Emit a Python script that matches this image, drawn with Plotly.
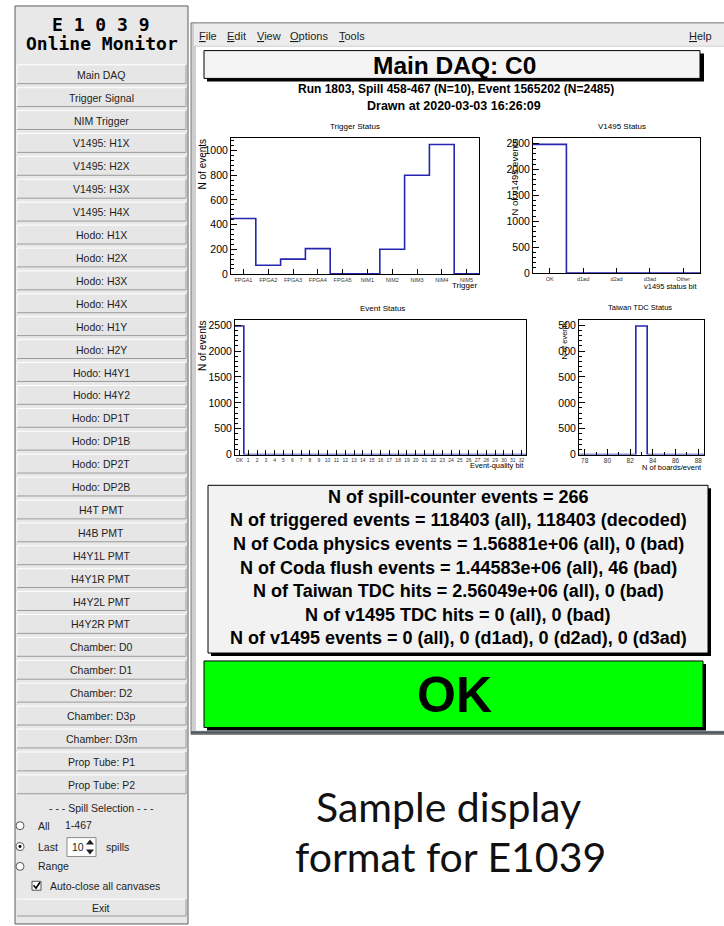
import numpy as np
import plotly.graph_objects as go

# ---------------- data ----------------
trigger_labels = ["FPGA1", "FPGA2", "FPGA3", "FPGA4", "FPGA5", "NIM1", "NIM2", "NIM3", "NIM4", "NIM5"]
trigger_counts = [450, 70, 120, 205, 0, 0, 200, 800, 1050, 0]

v1495_labels = ["OK", "d1ad", "d2ad", "d3ad", "Other"]
v1495_counts = [2485, 0, 0, 0, 0]

event_labels = ["OK", "1", "2", "3", "4", "5", "6", "7", "8", "9", "10", "11", "12", "13", "14", "15", "16",
                "17", "18", "19", "20", "21", "22", "23", "24", "25", "26", "27", "28", "29", "30", "31", "32"]
event_counts = [2485, 0, 0, 0, 0, 0, 0, 0, 0, 0, 0, 0, 0, 0, 0, 0, 0,
                0, 0, 0, 0, 0, 0, 0, 0, 0, 0, 0, 0, 0, 0, 0, 0]

tdc_boards = [78, 79, 80, 81, 82, 83, 84, 85, 86, 87, 88]
tdc_counts = [0, 0, 0, 0, 0, 2485, 0, 0, 0, 0, 0]
tdc_ticks = [0, 500, 1000, 1500, 2000, 2500]
tdc_ticktext = ["0", "500", "000", "500", "000", "500"]

menu_items = ["File", "Edit", "View", "Options", "Tools"]
buttons = ["Main DAQ", "Trigger Signal", "NIM Trigger", "V1495: H1X", "V1495: H2X", "V1495: H3X",
           "V1495: H4X", "Hodo: H1X", "Hodo: H2X", "Hodo: H3X", "Hodo: H4X", "Hodo: H1Y", "Hodo: H2Y",
           "Hodo: H4Y1", "Hodo: H4Y2", "Hodo: DP1T", "Hodo: DP1B", "Hodo: DP2T", "Hodo: DP2B",
           "H4T PMT", "H4B PMT", "H4Y1L PMT", "H4Y1R PMT", "H4Y2L PMT", "H4Y2R PMT",
           "Chamber: D0", "Chamber: D1", "Chamber: D2", "Chamber: D3p", "Chamber: D3m",
           "Prop Tube: P1", "Prop Tube: P2"]

info_lines = [
    "N of spill-counter events = 266",
    "N of triggered events = 118403 (all), 118403 (decoded)",
    "N of Coda physics events = 1.56881e+06 (all), 0 (bad)",
    "N of Coda flush events = 1.44583e+06 (all), 46 (bad)",
    "N of Taiwan TDC hits = 2.56049e+06 (all), 0 (bad)",
    "N of v1495 TDC hits = 0 (all), 0 (bad)",
    "N of v1495 events = 0 (all), 0 (d1ad), 0 (d2ad), 0 (d3ad)",
]

# ---------------- helpers ----------------
W, H = 724, 926
ROOTF = "Liberation Sans"
GUIF = "Liberation Sans"
HIST = "#2626b0"


def px(x):
    return x / W


def py(y):
    return 1 - y / H


shapes = []
annos = []


def rect(x0, y0, x1, y1, fill, line=None, lw=1, layer="below"):
    shapes.append(dict(type="rect", xref="paper", yref="paper",
                       x0=px(x0), x1=px(x1), y0=py(y1), y1=py(y0),
                       fillcolor=fill, layer=layer,
                       line=dict(color=line if line else "rgba(0,0,0,0)", width=lw if line else 0)))


def hline(x0, x1, y, color, w=1, layer="below"):
    shapes.append(dict(type="line", xref="paper", yref="paper", x0=px(x0), x1=px(x1), y0=py(y), y1=py(y),
                       line=dict(color=color, width=w), layer=layer))


def vline(x, y0, y1, color, w=1, layer="below"):
    shapes.append(dict(type="line", xref="paper", yref="paper", x0=px(x), x1=px(x), y0=py(y0), y1=py(y1),
                       line=dict(color=color, width=w), layer=layer))


def text(x, y, s, size, color="#000", family=ROOTF, xa="center", ya="middle", angle=0):
    annos.append(dict(x=px(x), y=py(y), xref="paper", yref="paper", text=s, showarrow=False,
                      xanchor=xa, yanchor=ya, textangle=angle,
                      font=dict(size=size, color=color, family=family)))


# ---------------- left control panel ----------------
rect(15, 5, 188, 930, "#e8e8e8", "#5c5c5c", 1)
text(101, 24, "<b>E 1 0 3 9</b>", 18, "#000", "DejaVu Sans Mono")
text(102, 43, "<b>Online Monitor</b>", 18, "#000", "DejaVu Sans Mono")

c0, pitch = 73.8, 23.08
for i, b in enumerate(buttons):
    cy = c0 + i * pitch
    rect(17, cy - 9.5, 186, cy + 9.5, "#e6e6e6", None)
    hline(17, 186, cy - 9.5, "#ffffff", 1)
    vline(17, cy - 9.5, cy + 9.5, "#ffffff", 1)
    hline(17, 186, cy + 9.5, "#9a9a9a", 1)
    vline(186, cy - 9.5, cy + 9.5, "#9a9a9a", 1)
    text(101, cy + 0.5, b, 10.5, "#1e1e1e", GUIF)

text(101, 813, "- - - Spill Selection - - -", 10.5, "#1e1e1e", GUIF)
for yy, sel in [(831, False), (852, True), (872, False)]:
    shapes.append(dict(type="circle", xref="paper", yref="paper", x0=px(16), x1=px(24), y0=py(yy + 4), y1=py(yy - 4),
                       fillcolor="#ffffff", line=dict(color="#555", width=1), layer="above"))
    if sel:
        shapes.append(dict(type="circle", xref="paper", yref="paper", x0=px(18.5), x1=px(21.5), y0=py(yy + 1.5),
                           y1=py(yy - 1.5), fillcolor="#000", line=dict(width=0), layer="above"))
text(36, 831, "All", 10.5, "#1e1e1e", GUIF, xa="left")
text(63, 830, "1-467", 10.5, "#1e1e1e", GUIF, xa="left")
text(36, 852, "Last", 10.5, "#1e1e1e", GUIF, xa="left")
rect(67, 843, 96, 862, "#ffffff", "#8a8a8a", 1)
text(70, 852.5, "10", 10.5, "#1e1e1e", GUIF, xa="left")
shapes.append(dict(type="path", xref="paper", yref="paper", layer="above",
                   path=f"M {px(86)} {py(850)} L {px(94)} {py(850)} L {px(90)} {py(845)} Z",
                   fillcolor="#222", line=dict(width=0)))
shapes.append(dict(type="path", xref="paper", yref="paper", layer="above",
                   path=f"M {px(86)} {py(855)} L {px(94)} {py(855)} L {px(90)} {py(860)} Z",
                   fillcolor="#222", line=dict(width=0)))
text(104, 852, "spills", 10.5, "#1e1e1e", GUIF, xa="left")
text(36, 872, "Range", 10.5, "#1e1e1e", GUIF, xa="left")
rect(32, 887, 41, 896, "#ffffff", "#555", 1, layer="above")
shapes.append(dict(type="path", xref="paper", yref="paper", layer="above",
                   path=f"M {px(33.5)} {py(891)} L {px(36)} {py(894)} L {px(40)} {py(888)}",
                   line=dict(color="#000", width=1.6)))
text(48, 891.5, "Auto-close all canvases", 10.5, "#1e1e1e", GUIF, xa="left")
rect(17, 905, 186, 922, "#e6e6e6", None)
hline(17, 186, 905, "#ffffff", 1)
hline(17, 186, 922, "#9a9a9a", 1)
vline(186, 905, 922, "#9a9a9a", 1)
text(101, 913.5, "Exit", 10.5, "#1e1e1e", GUIF)

# ---------------- right window ----------------
rect(191, 22, 726, 739, "#cfcfcf", "#7a7a7a", 1)
rect(194, 23, 726, 45, "#ececec", None)
rect(196, 46, 726, 735, "#ffffff", None)
hline(191, 726, 737, "#4b5358", 2.5)
menu_x = [197, 225, 255, 288, 337]
for mx, m in zip(menu_x, menu_items):
    text(mx, 35, "<u>" + m[0] + "</u>" + m[1:], 11, "#1e1e1e", GUIF, xa="left")
text(714, 35, "<u>H</u>elp", 11, "#1e1e1e", GUIF, xa="right")

# title box with shadow
rect(207, 53, 704, 81, "#000000", None)
rect(204, 50, 700, 78, "#f4f4f4", "#000", 1)
text(454, 64.5, "<b>Main DAQ: C0</b>", 24.5, "#000", ROOTF)
text(456, 89, "<b>Run 1803, Spill 458-467 (N=10), Event 1565202 (N=2485)</b>", 12, "#000", ROOTF)
text(454, 105.5, "<b>Drawn at 2020-03-03 16:26:09</b>", 12.5, "#000", ROOTF)

# info box
rect(211, 491, 711, 660, "#000000", None)
rect(208, 488, 708, 657, "#f2f2f2", "#000", 1)
for i, ln in enumerate(info_lines):
    text(458, 499.5 + i * 23.8, "<b>" + ln + "</b>", 18, "#000", ROOTF)

# OK box
rect(207, 668, 706, 735, "#000000", None)
rect(204, 665, 703, 732, "#00ff00", "#000", 1)
text(454, 699, "<b>OK</b>", 50, "#000", ROOTF)

# caption
text(448, 812, "Sample display", 41, "#111", "Lato")
text(450, 862, "format for E1039", 41, "#111", "Lato")

# ---------------- histograms ----------------
fig = go.Figure()

panels = [
    dict(frame=(231, 138, 479, 275), xr=[0, 10], yr=[0, 1102.5]),
    dict(frame=(533, 138, 700, 274), xr=[0, 5], yr=[0, 2609]),
    dict(frame=(235, 321, 526, 457), xr=[-0.5, 32.5], yr=[0, 2609]),
    dict(frame=(579, 321, 704, 457), xr=[77.5, 88.5], yr=[0, 2609]),
]

edges_list = [
    np.arange(len(trigger_counts) + 1),
    np.arange(len(v1495_counts) + 1),
    np.arange(len(event_counts) + 1) - 0.5,
    np.array(tdc_boards + [tdc_boards[-1] + 1]) - 0.5,
]
counts_list = [trigger_counts, v1495_counts, event_counts, tdc_counts]

layout_axes = {}
for k, (p, edges, cnt) in enumerate(zip(panels, edges_list, counts_list)):
    i = k + 1
    xa = "x" if i == 1 else f"x{i}"
    ya = "y" if i == 1 else f"y{i}"
    fig.add_trace(go.Scatter(x=edges, y=list(cnt) + [cnt[-1]], mode="lines", line_shape="hv",
                             line=dict(color=HIST, width=1.6), xaxis=xa, yaxis=ya, cliponaxis=False,
                             hoverinfo="skip", showlegend=False))
    x0, y0, x1, y1 = p["frame"]
    common = dict(showline=True, mirror=True, linecolor="#000", linewidth=1, showgrid=False, zeroline=False,
                  ticks="inside", tickcolor="#000", fixedrange=True)
    xk = "xaxis" if i == 1 else f"xaxis{i}"
    yk = "yaxis" if i == 1 else f"yaxis{i}"
    layout_axes[xk] = dict(common, domain=[px(x0), px(x1)], range=p["xr"], anchor=ya)
    layout_axes[yk] = dict(common, domain=[py(y1), py(y0)], range=p["yr"], anchor=xa,
                           tickfont=dict(family=ROOTF, size=10.5, color="#000"), ticklen=6,
                           minor=dict(ticks="inside", ticklen=3, tickcolor="#000"))

layout_axes["xaxis"].update(tickvals=[v + 0.5 for v in range(len(trigger_labels))], ticktext=trigger_labels,
                            tickfont=dict(family=ROOTF, size=5.5, color="#333"), ticklen=5)
layout_axes["yaxis"].update(tickvals=[0, 200, 400, 600, 800, 1000], minor=dict(ticks="inside", ticklen=3,
                            dtick=40, tickcolor="#000"), dtick=200, tick0=0)
layout_axes["xaxis2"].update(tickvals=[v + 0.5 for v in range(len(v1495_labels))], ticktext=v1495_labels,
                             tickfont=dict(family=ROOTF, size=5.5, color="#333"), ticklen=5)
layout_axes["yaxis2"].update(tick0=0, dtick=500, minor=dict(ticks="inside", ticklen=3, dtick=100, tickcolor="#000"))
layout_axes["xaxis3"].update(tickvals=list(range(len(event_labels))), ticktext=event_labels,
                             tickfont=dict(family=ROOTF, size=5, color="#333"), ticklen=5)
layout_axes["yaxis3"].update(tick0=0, dtick=500, minor=dict(ticks="inside", ticklen=3, dtick=100, tickcolor="#000"))
layout_axes["xaxis4"].update(tickvals=[78, 80, 82, 84, 86, 88], ticklen=6,
                             tickfont=dict(family=ROOTF, size=6.5, color="#333"),
                             minor=dict(ticks="inside", ticklen=3, dtick=1, tickcolor="#000"))
layout_axes["yaxis4"].update(tickvals=tdc_ticks, ticktext=tdc_ticktext,
                             minor=dict(ticks="inside", ticklen=3, dtick=100, tickcolor="#000"))

text(355, 126, "Trigger Status", 8, "#000", ROOTF)
text(622, 126, "V1495 Status", 8, "#000", ROOTF)
text(382, 310, "Event Status", 8, "#000", ROOTF)
text(640, 309, "Taiwan TDC Status", 7.5, "#000", ROOTF)
text(479, 287, "Trigger", 8, "#000", ROOTF, xa="right")
text(699, 288, "v1495 status bit", 7.5, "#000", ROOTF, xa="right")
text(526, 468, "Event-quality bit", 7.5, "#000", ROOTF, xa="right")
text(704, 470, "N of boards/event", 7.5, "#000", ROOTF, xa="right")
text(202, 137, "N of events", 10, "#000", ROOTF, ya="top", angle=-90)
text(514, 137, "N of v1495 events", 9.5, "#000", ROOTF, ya="top", angle=-90)
text(202, 320, "N of events", 10, "#000", ROOTF, ya="top", angle=-90)
text(565, 321, "N of events", 7.5, "#000", ROOTF, ya="top", angle=-90)

fig.update_layout(width=W, height=H, margin=dict(l=0, r=0, t=0, b=0), paper_bgcolor="#ffffff",
                  plot_bgcolor="rgba(0,0,0,0)", shapes=shapes, annotations=annos, showlegend=False,
                  **layout_axes)

fig.write_html("out.html", config={"displayModeBar": False})
